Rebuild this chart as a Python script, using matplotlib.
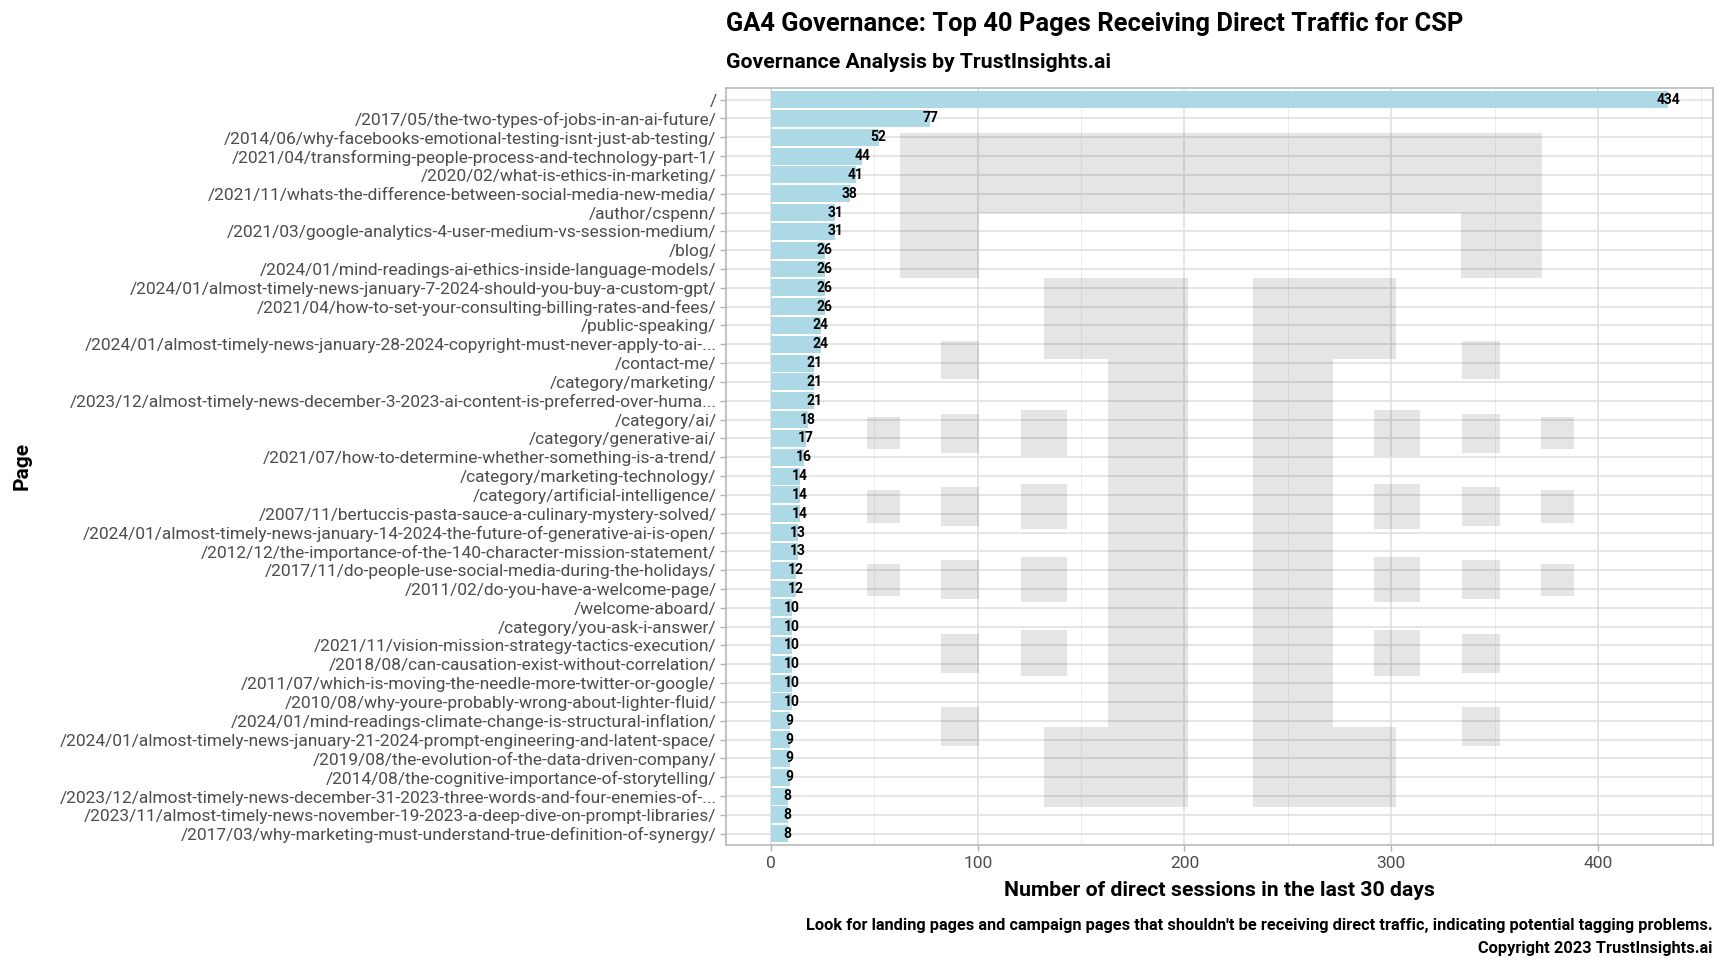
import matplotlib
matplotlib.use("Agg")
import matplotlib.pyplot as plt
from matplotlib.patches import Rectangle
from matplotlib.ticker import MultipleLocator

plt.rcParams["font.family"] = ["Roboto", "DejaVu Sans"]

pages = [
    "/",
    "/2017/05/the-two-types-of-jobs-in-an-ai-future/",
    "/2014/06/why-facebooks-emotional-testing-isnt-just-ab-testing/",
    "/2021/04/transforming-people-process-and-technology-part-1/",
    "/2020/02/what-is-ethics-in-marketing/",
    "/2021/11/whats-the-difference-between-social-media-new-media/",
    "/author/cspenn/",
    "/2021/03/google-analytics-4-user-medium-vs-session-medium/",
    "/blog/",
    "/2024/01/mind-readings-ai-ethics-inside-language-models/",
    "/2024/01/almost-timely-news-january-7-2024-should-you-buy-a-custom-gpt/",
    "/2021/04/how-to-set-your-consulting-billing-rates-and-fees/",
    "/public-speaking/",
    "/2024/01/almost-timely-news-january-28-2024-copyright-must-never-apply-to-ai-...",
    "/contact-me/",
    "/category/marketing/",
    "/2023/12/almost-timely-news-december-3-2023-ai-content-is-preferred-over-huma...",
    "/category/ai/",
    "/category/generative-ai/",
    "/2021/07/how-to-determine-whether-something-is-a-trend/",
    "/category/marketing-technology/",
    "/category/artificial-intelligence/",
    "/2007/11/bertuccis-pasta-sauce-a-culinary-mystery-solved/",
    "/2024/01/almost-timely-news-january-14-2024-the-future-of-generative-ai-is-open/",
    "/2012/12/the-importance-of-the-140-character-mission-statement/",
    "/2017/11/do-people-use-social-media-during-the-holidays/",
    "/2011/02/do-you-have-a-welcome-page/",
    "/welcome-aboard/",
    "/category/you-ask-i-answer/",
    "/2021/11/vision-mission-strategy-tactics-execution/",
    "/2018/08/can-causation-exist-without-correlation/",
    "/2011/07/which-is-moving-the-needle-more-twitter-or-google/",
    "/2010/08/why-youre-probably-wrong-about-lighter-fluid/",
    "/2024/01/mind-readings-climate-change-is-structural-inflation/",
    "/2024/01/almost-timely-news-january-21-2024-prompt-engineering-and-latent-space/",
    "/2019/08/the-evolution-of-the-data-driven-company/",
    "/2014/08/the-cognitive-importance-of-storytelling/",
    "/2023/12/almost-timely-news-december-31-2023-three-words-and-four-enemies-of-...",
    "/2023/11/almost-timely-news-november-19-2023-a-deep-dive-on-prompt-libraries/",
    "/2017/03/why-marketing-must-understand-true-definition-of-synergy/",
]
sessions = [434, 77, 52, 44, 41, 38, 31, 31, 26, 26, 26, 26, 24, 24, 21, 21, 21, 18,
            17, 16, 14, 14, 14, 13, 13, 12, 12, 10, 10, 10, 10, 10, 10, 9, 9, 9, 9,
            8, 8, 8]
x_ticks = [0, 100, 200, 300, 400]

title = "GA4 Governance: Top 40 Pages Receiving Direct Traffic for CSP"
subtitle = "Governance Analysis by TrustInsights.ai"
x_title = "Number of direct sessions in the last 30 days"
caption = ("Look for landing pages and campaign pages that shouldn't be receiving "
           "direct traffic, indicating potential tagging problems.\n"
           "Copyright 2023 TrustInsights.ai")

W, H = 1728, 972
fig = plt.figure(figsize=(W / 100, H / 100), dpi=100)
ax = fig.add_axes([726.2 / W, 1 - 845 / H, (1713 - 726.2) / W, (845 - 88.3) / H])

n = len(pages)
ypos = list(range(n, 0, -1))
ax.barh(ypos, sessions, height=0.9, color="#ADD8E6", zorder=2)
for y, v in zip(ypos, sessions):
    ax.text(v, y, str(v), ha="center", va="center", fontsize=10,
            fontweight="bold", color="black", zorder=4)

top = max(sessions)
ax.set_xlim(-0.05 * top, 1.05 * top)
ax.set_ylim(0.4, n + 0.6)
ax.set_yticks(ypos)
ax.set_yticklabels(pages)
ax.set_xticks(x_ticks)
ax.xaxis.set_minor_locator(MultipleLocator(50))

ax.grid(True, which="major", color="#DEDEDE", linewidth=1.1, zorder=0)
ax.grid(True, which="minor", axis="x", color="#EBEBEB", linewidth=0.6, zorder=0)
ax.set_axisbelow(True)
for s in ax.spines.values():
    s.set_color("#B3B3B3")
    s.set_linewidth(1.1)
ax.tick_params(axis="both", which="major", colors="#B3B3B3", length=4, width=1)
ax.tick_params(axis="x", which="minor", length=0)
ax.tick_params(axis="y", labelsize=12.5, labelcolor="#4D4D4D", pad=3)
ax.tick_params(axis="x", labelsize=12.5, labelcolor="#4D4D4D", pad=4)

ax.set_xlabel(x_title, fontsize=15.3, fontweight="bold", labelpad=7)
fig.text(22 / W, 1 - 466 / H, "Page", rotation=90, ha="center", va="center",
         fontsize=15, fontweight="bold")
fig.text(726.2 / W, 1 - 24 / H, title, ha="left", va="center", fontsize=18.4,
         fontweight="bold")
fig.text(726.2 / W, 1 - 62 / H, subtitle, ha="left", va="center", fontsize=15.3,
         fontweight="bold")
fig.text(1713 / W, 1 - 937 / H, caption, ha="right", va="center", fontsize=11.8,
         fontweight="bold", linespacing=1.7)

# watermark logo (pixel-based rectangles, decoration only)
logo_box = (867.2, 133.0, 1573.9, 807.3)
logo_rects = [
    (900.0, 1541.8, 133.0, 213.3),
    (900.0, 979.3, 213.3, 277.7),
    (1461.2, 1541.8, 213.3, 277.7),
    (1044.2, 1188.4, 277.7, 358.7),
    (1252.7, 1396.3, 277.7, 358.7),
    (1108.4, 1188.4, 358.7, 727.0),
    (1252.7, 1333.3, 358.7, 727.0),
    (1044.2, 1188.4, 727.0, 807.3),
    (1252.7, 1396.3, 727.0, 807.3),
]
cols = {1: (867.2, 900.0), 2: (941.3, 979.3), 3: (1021.2, 1067.1)}
rows = {
    0: {2: (340.5, 379.0)},
    1: {1: (417.0, 449.3), 2: (414.0, 452.7), 3: (410.3, 456.0)},
    2: {1: (490.0, 522.7), 2: (487.0, 526.0), 3: (484.0, 529.0)},
    3: {1: (563.7, 596.0), 2: (560.0, 599.0), 3: (557.0, 602.3)},
    4: {2: (633.7, 672.7), 3: (630.3, 675.7)},
    5: {2: (707.0, 746.0)},
}
cx = (logo_box[0] + logo_box[2]) / 2
for r in rows.values():
    for c, (y0, y1) in r.items():
        x0, x1 = cols[c]
        logo_rects.append((x0, x1, y0, y1))
        logo_rects.append((2 * cx - x1, 2 * cx - x0, y0, y1))

lax = fig.add_axes([logo_box[0] / W, 1 - logo_box[3] / H,
                    (logo_box[2] - logo_box[0]) / W, (logo_box[3] - logo_box[1]) / H])
lax.set_xlim(logo_box[0], logo_box[2])
lax.set_ylim(logo_box[3], logo_box[1])
lax.axis("off")
lax.patch.set_alpha(0)
for x0, x1, y0, y1 in logo_rects:
    lax.add_patch(Rectangle((x0, y0), x1 - x0, y1 - y0, facecolor="black",
                            alpha=0.1, linewidth=0))

fig.savefig("out.png", dpi=100)
